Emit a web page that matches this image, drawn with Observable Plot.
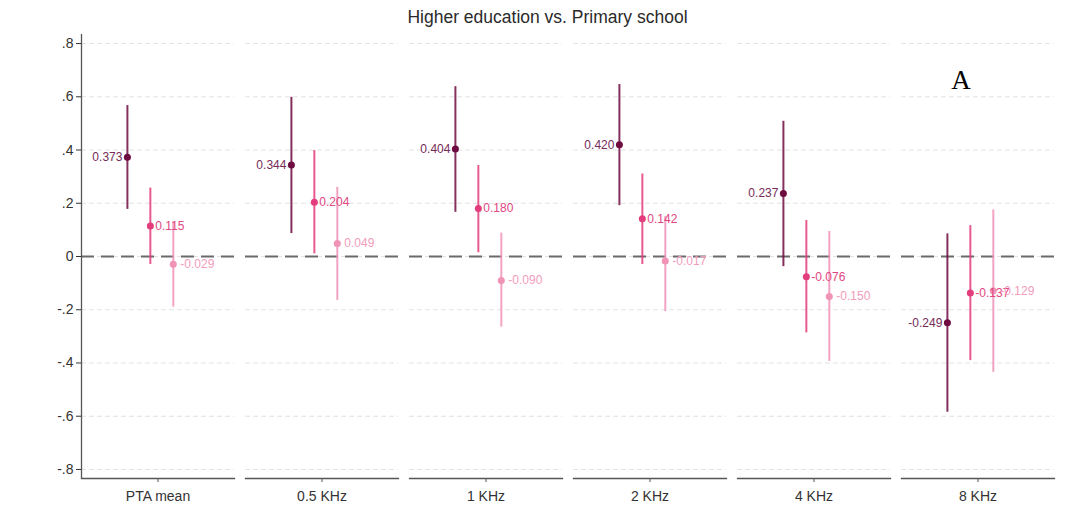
<!DOCTYPE html>
<html>
<head>
<meta charset="utf-8">
<script src="https://cdn.jsdelivr.net/npm/d3@7"></script>
<script src="https://cdn.jsdelivr.net/npm/@observablehq/plot@0.6"></script>
<style>
  body { margin: 0; background: #fff; font-family: "Liberation Sans", Arial, sans-serif; }
  #title { height: 30px; line-height: 34px; text-align: center; font-size: 17.5px; color: #2a2a2a; padding-left: 16px; }
</style>
</head>
<body>
<div id="title">Higher education vs. Primary school</div>
<div id="chart"></div>
<script>
const groups = ["PTA mean", "0.5 KHz", "1 KHz", "2 KHz", "4 KHz", "8 KHz"];
const seriesKeys = ["dark", "medium", "light"];
const seriesColors = ["#6e0b3f", "#e33d7d", "#f093b7"];
const labelColors = ["#762c57", "#e0467f", "#f19cbd"];

const est1 = [0.373, 0.344, 0.404, 0.420, 0.237, -0.249];
const lo1  = [0.177, 0.086, 0.166, 0.191, -0.038, -0.585];
const hi1  = [0.567, 0.598, 0.638, 0.646, 0.508, 0.085];

const est2 = [0.115, 0.204, 0.180, 0.142, -0.076, -0.137];
const lo2  = [-0.030, 0.010, 0.014, -0.030, -0.287, -0.391];
const hi2  = [0.257, 0.398, 0.342, 0.310, 0.135, 0.116];

const est3 = [-0.029, 0.049, -0.090, -0.017, -0.150, -0.129];
const lo3  = [-0.190, -0.165, -0.265, -0.207, -0.394, -0.435];
const hi3  = [0.130, 0.260, 0.088, 0.150, 0.094, 0.175];

const yTicks = [0.8, 0.6, 0.4, 0.2, 0, -0.2, -0.4, -0.6, -0.8];
const yTickLabels = [".8", ".6", ".4", ".2", "0", "-.2", "-.4", "-.6", "-.8"];

// layout constants (within-panel position of each series, panel center)
const seriesPos = {dark: 0.30, medium: 0.45, light: 0.60};
const labelGap = {dark: -5, medium: 5, light: 7};
const panelCenter = 0.5;

const ests = [est1, est2, est3], los = [lo1, lo2, lo3], his = [hi1, hi2, hi3];
const rows = [];
seriesKeys.forEach((s, si) => {
  groups.forEach((g, gi) => {
    rows.push({group: g, series: s, pos: seriesPos[s], est: ests[si][gi], lo: los[si][gi], hi: his[si][gi],
      label: ests[si][gi].toFixed(3)});
  });
});
const colorOf = d => seriesColors[seriesKeys.indexOf(d.series)];
const labelColorOf = d => labelColors[seriesKeys.indexOf(d.series)];

const font = "Liberation Sans, Arial, sans-serif";
const chart = Plot.plot({
  width: 1079,
  height: 481,
  marginLeft: 81,
  marginRight: 25,
  marginTop: 4,
  marginBottom: 33,
  style: {fontFamily: font, background: "#fff"},
  fx: {domain: groups, paddingInner: 11 / 164, paddingOuter: 0, round: false, label: null},
  x: {domain: [0, 1]},
  y: {domain: [-0.834, 0.834]},
  marks: [
    Plot.gridY(yTicks, {stroke: "#e2e2e2", strokeOpacity: 1, strokeDasharray: "5,3"}),
    Plot.ruleY([0], {stroke: "#6a6a6a", strokeWidth: 2, strokeDasharray: "13,7"}),
    Plot.frame({anchor: "bottom", stroke: "#555", strokeWidth: 1.3}),
    Plot.ruleX([{group: groups[0], v: 0}], {x: "v", fx: "group", stroke: "#555", strokeWidth: 1.3}),
    Plot.axisY({ticks: yTicks, tickFormat: d => yTickLabels[yTicks.indexOf(d)], tickSize: 5, tickPadding: 3,
      fontSize: 14, color: "#333", label: null}),
    Plot.axisX({ticks: [panelCenter], tickFormat: () => "", tickSize: 4, stroke: "#555", label: null}),
    Plot.axisFx({anchor: "bottom", tickSize: 0, tickPadding: 13, fontSize: 14, color: "#333", label: null}),
    Plot.ruleX(rows, {fx: "group", x: "pos", y1: "lo", y2: "hi", stroke: colorOf, strokeWidth: 2, strokeOpacity: 0.85}),
    Plot.dot(rows, {fx: "group", x: "pos", y: "est", fill: colorOf, r: 3.5}),
    Plot.text(rows.filter(d => d.series === "dark"), {fx: "group", x: "pos", y: "est", text: "label",
      fill: labelColorOf, textAnchor: "end", dx: labelGap.dark, fontSize: 12}),
    Plot.text(rows.filter(d => d.series === "medium"), {fx: "group", x: "pos", y: "est", text: "label",
      fill: labelColorOf, textAnchor: "start", dx: labelGap.medium, fontSize: 12}),
    Plot.text(rows.filter(d => d.series === "light"), {fx: "group", x: "pos", y: "est", text: "label",
      fill: labelColorOf, textAnchor: "start", dx: labelGap.light, fontSize: 12}),
    Plot.text([{group: groups[5], t: "A"}], {fx: "group", text: "t", frameAnchor: "top", dx: -17, dy: 35,
      fontSize: 27, fontFamily: "Liberation Serif, Times New Roman, serif", fill: "#000"})
  ]
});
document.getElementById("chart").appendChild(chart);
</script>
</body>
</html>
